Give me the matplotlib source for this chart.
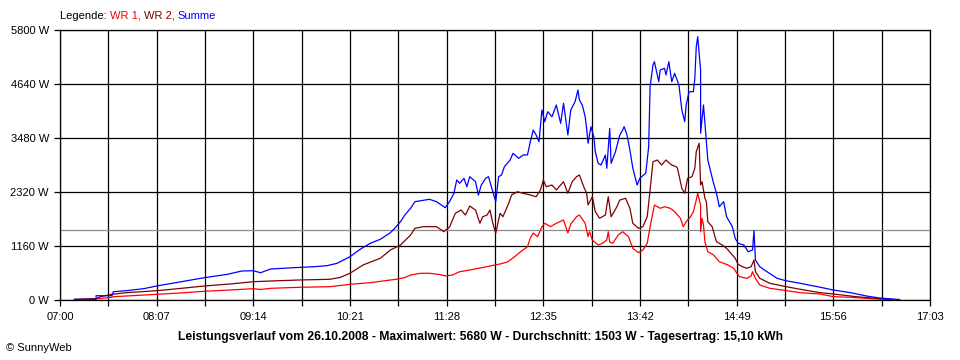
import matplotlib
matplotlib.use('Agg')
import matplotlib.pyplot as plt

# minutes after 07:00 and power in W
t_wr1 = [10, 26, 36, 37, 46, 67, 83, 100, 118, 134, 139, 146, 166, 187, 201, 215, 233, 239, 243, 250,
         256, 263, 267, 272, 277, 284, 291, 298, 305, 310, 314, 319, 324, 326, 328, 331, 334, 336, 340, 344,
         349, 352, 354, 358, 360, 364, 366, 367, 369, 373, 376, 379, 380, 381, 383, 387, 390, 394, 397, 401,
         404, 407, 409, 412, 416, 419, 423, 426, 430, 432, 434, 437, 439, 441, 442, 444, 444, 445, 446, 447,
         449, 453, 457, 463, 467, 469, 471, 476, 479, 480, 482, 485, 492, 502, 513, 527, 536, 548, 563, 573, 579]
wr1 = [10, 28, 58, 71, 86, 122, 150, 187, 215, 243, 226, 251, 273, 286, 337, 372, 445, 483, 537, 574,
       574, 548, 516, 537, 608, 644, 687, 730, 773, 816, 902, 1031, 1145, 1332, 1439, 1360, 1575, 1648, 1575, 1648,
       1718, 1439, 1632, 1789, 1826, 1648, 1360, 1467, 1289, 1181, 1218, 1289, 1467, 1246, 1218, 1396, 1467, 1360, 1111, 1016,
       1074, 1218, 1575, 2041, 1970, 2004, 1970, 1897, 1755, 1575, 1682, 1789, 1897, 2148, 2292, 2041, 1467, 1755, 1611, 1252,
       1037, 967, 823, 752, 681, 580, 500, 466, 516, 608, 466, 322, 251, 208, 157, 129, 71, 58, 28, 15, 6]

t_wr2 = [10, 25, 28, 36, 46, 67, 83, 100, 118, 134, 146, 166, 187, 194, 201, 210, 222, 229, 236, 243,
         246, 252, 261, 266, 270, 274, 278, 281, 284, 288, 291, 293, 296, 298, 300, 302, 305, 307, 311, 313,
         317, 321, 326, 330, 333, 335, 337, 341, 344, 349, 352, 355, 358, 360, 363, 365, 366, 369, 371, 374,
         378, 380, 382, 386, 388, 392, 395, 397, 401, 404, 407, 409, 411, 414, 417, 420, 424, 427, 428, 431,
         433, 435, 438, 440, 441, 443, 444, 445, 447, 448, 449, 452, 455, 459, 462, 466, 468, 470, 473, 476,
         479, 481, 482, 485, 492, 502, 513, 527, 536, 552, 568, 576]
wr2 = [10, 28, 71, 122, 157, 200, 247, 301, 344, 393, 408, 430, 445, 483, 574, 752, 896, 1074, 1181, 1396,
       1540, 1575, 1575, 1467, 1568, 1862, 1933, 1826, 2019, 1933, 1648, 1789, 1826, 1933, 1648, 1433, 1862, 1789, 2077, 2255,
       2326, 2292, 2255, 2219, 2363, 2578, 2434, 2470, 2363, 2541, 2292, 2541, 2649, 2685, 2434, 2292, 2041, 2219, 1897, 1755,
       1826, 2219, 1789, 2004, 2148, 2185, 1970, 1648, 1540, 1575, 1789, 2363, 2971, 3007, 2900, 3007, 2900, 2863, 2829, 2399,
       2292, 2614, 2649, 2829, 3186, 3366, 2470, 2541, 2185, 2112, 1682, 1575, 1252, 1181, 1111, 967, 896, 767, 715, 681,
       715, 859, 608, 466, 359, 294, 230, 157, 129, 71, 28, 10]

t_sum = [10, 25, 25, 36, 37, 46, 58, 67, 88, 100, 116, 126, 134, 139, 146, 162, 176, 185, 192, 201,
         208, 215, 222, 229, 232, 236, 239, 243, 246, 250, 256, 261, 267, 270, 273, 275, 277, 280, 282, 284,
         288, 290, 292, 295, 297, 299, 302, 304, 306, 308, 312, 314, 318, 321, 324, 326, 328, 330, 332, 334,
         336, 338, 341, 344, 347, 349, 352, 354, 357, 359, 360, 362, 364, 365, 366, 368, 370, 371, 373, 375,
         378, 379, 381, 382, 385, 388, 390, 391, 393, 395, 397, 400, 402, 406, 408, 409, 411, 412, 415, 416,
         419, 420, 422, 424, 426, 429, 431, 433, 434, 436, 439, 440, 441, 442, 444, 444, 446, 447, 449, 451,
         453, 455, 457, 460, 462, 466, 468, 470, 474, 477, 480, 481, 482, 485, 490, 497, 503, 513, 527, 536,
         548, 559, 568, 582]
summe = [15, 15, 92, 92, 178, 200, 243, 301, 415, 479, 552, 623, 629, 586, 666, 694, 715, 737, 788, 930,
         1089, 1218, 1304, 1446, 1540, 1682, 1826, 1970, 2112, 2133, 2163, 2112, 1983, 2112, 2292, 2578, 2507, 2614, 2434, 2649,
         2541, 2255, 2470, 2614, 2649, 2434, 2112, 2649, 2685, 2863, 3007, 3151, 3044, 3115, 3115, 3401, 3652, 3544, 3401, 4081,
         3830, 4045, 3937, 4189, 3796, 4225, 3544, 4081, 4260, 4511, 4296, 4189, 3937, 3688, 3366, 3723, 3508, 3186, 2936, 2900,
         3115, 2829, 3688, 2936, 3186, 3544, 3652, 3723, 3544, 3222, 2836, 2470, 2620, 2722, 3293, 4582, 5048, 5119, 4689, 4940,
         4977, 4833, 5119, 4689, 4870, 4618, 4081, 3830, 4189, 4474, 4474, 4762, 5441, 5656, 4940, 3581, 4189, 3796, 3007, 2756,
         2507, 2292, 2004, 2112, 1789, 1575, 1325, 1218, 1181, 1037, 1074, 1489, 859, 715, 608, 466, 415, 359, 273, 215,
         157, 86, 43, 10]

average = 1503
y_ticks = [0, 1160, 2320, 3480, 4640, 5800]
x_major = [0, 67, 134, 201, 268, 335, 402, 469, 536, 603]
x_minor = [33.5, 100.5, 167.5, 234.5, 301.5, 368.5, 435.5, 502.5, 569.5]

title = "Leistungsverlauf vom 26.10.2008 - Maximalwert: 5680 W - Durchschnitt: 1503 W - Tagesertrag: 15,10 kWh"
legend_parts = [("Legende: ", "black"), ("WR 1, ", "#ff0000"), ("WR 2, ", "#800000"), ("Summe", "#0000ff")]

plt.rcParams['font.family'] = ['Liberation Sans', 'DejaVu Sans']

fig = plt.figure(figsize=(9.6, 3.6), dpi=100)
ax = fig.add_axes([60 / 960, 60 / 360, 870 / 960, 270 / 360])
ax.set_xlim(0, 603)
ax.set_ylim(0, 5800)

# grid
for v in x_major + x_minor:
    ax.axvline(v, color='black', lw=0.9, zorder=1)
for v in y_ticks:
    ax.axhline(v, color='black', lw=0.9, zorder=1)
ax.axhline(average, color='#8c8c8c', lw=0.9, zorder=2)

ax.plot(t_wr1, wr1, color='#ff0000', lw=0.9, zorder=3)
ax.plot(t_wr2, wr2, color='#800000', lw=0.9, zorder=4)
ax.plot(t_sum, summe, color='#0000ff', lw=0.9, zorder=5)

ax.set_xticks(x_major)
ax.set_xticks(x_minor, minor=True)
ax.set_xticklabels(["%02d:%02d" % (7 + m // 60, m % 60) for m in x_major])
ax.set_yticks(y_ticks)
ax.set_yticklabels(["%d W" % v for v in y_ticks])
ax.tick_params(which='both', direction='out', length=4, width=0.9, color='black', labelsize=8)
ax.tick_params(axis='x', pad=5)
ax.tick_params(axis='y', pad=4)
for s in ax.spines.values():
    s.set_color('black')
    s.set_linewidth(0.9)

fig.text(0.5, 1 - 337 / 360, title, ha='center', va='center', fontsize=8.7, fontweight='bold')
fig.text(6 / 960, 1 - 348 / 360, "\u00a9 SunnyWeb", ha='left', va='center', fontsize=8)

# coloured legend line, pieces placed one after another
renderer = fig.canvas.get_renderer()
x = 60 / 960
for txt, col in legend_parts:
    t = fig.text(x, 1 - 16 / 360, txt, color=col, ha='left', va='center', fontsize=8)
    bb = t.get_window_extent(renderer)
    x = bb.x1 / fig.bbox.width

fig.savefig('out.png', dpi=100, facecolor='white')
